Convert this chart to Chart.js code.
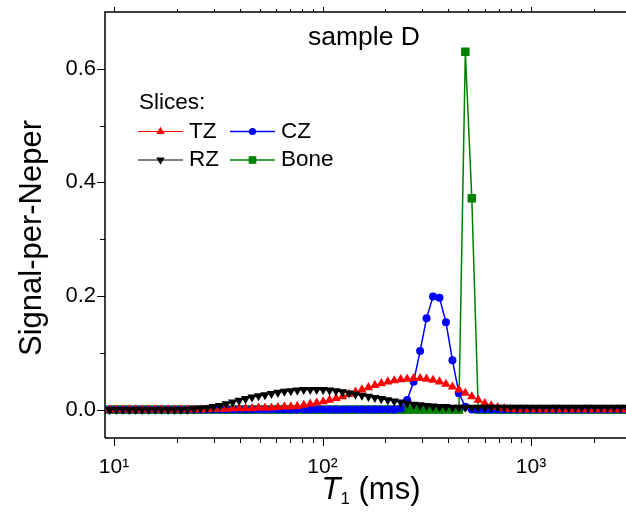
<!DOCTYPE html>
<html>
<head>
<meta charset="utf-8">
<script src="https://cdn.jsdelivr.net/npm/chart.js"></script>
<style>
html, body { margin: 0; padding: 0; background: #fff; }
#wrap { width: 626px; height: 523px; }
</style>
</head>
<body>
<div id="wrap"><canvas id="c" width="626" height="523"></canvas></div>
<script>
const FONT = "'Liberation Sans', Arial, Helvetica, sans-serif";

// T1 grid (ms)
const T1 = [
  9.55, 10.26, 11.02, 11.83, 12.71, 13.65, 14.66, 15.74, 16.90, 18.16,
  19.50, 20.94, 22.49, 24.15, 25.94, 27.86, 29.92, 32.14, 34.51, 37.07,
  39.81, 42.76, 45.92, 49.32, 52.97, 56.89, 61.09, 65.61, 70.47, 75.68,
  81.28, 87.30, 93.76, 100.7, 108.1, 116.1, 124.7, 134.0, 143.9, 154.5,
  166.0, 178.2, 191.4, 205.6, 220.8, 237.1, 254.7, 273.5, 293.8, 315.5,
  338.8, 363.9, 390.8, 419.8, 450.8, 484.2, 520.0, 558.5, 599.8, 644.2,
  691.8, 743.0, 798.0, 857.0, 920.4, 988.5, 1062, 1140, 1225, 1315,
  1413, 1517, 1629, 1750, 1879, 2018, 2168, 2328, 2500, 2685, 2884
];

const TZ = [
  0, 0, 0, 0, 0, 0, 0, 0, 0, 0,
  0, 0, 0, 0, 0, 0, 0.001, 0.001, 0.001, 0.002,
  0.002, 0.002, 0.002, 0.003, 0.003, 0.003, 0.004, 0.005, 0.005, 0.006,
  0.008, 0.010, 0.012, 0.014, 0.017, 0.020, 0.023, 0.027, 0.031, 0.035,
  0.039, 0.043, 0.046, 0.049, 0.051, 0.053, 0.054, 0.055, 0.055, 0.054,
  0.052, 0.049, 0.045, 0.040, 0.035, 0.029, 0.023, 0.017, 0.011, 0.007,
  0.004, 0.002, 0.001, 0, 0, 0, 0, 0, 0, 0,
  0, 0, 0, 0, 0, 0, 0, 0, 0, 0, 0
];

const CZ = [
  0, 0, 0, 0, 0, 0, 0, 0, 0, 0,
  0, 0, 0, 0, 0, 0, 0, 0, 0, 0,
  0, 0, 0, 0, 0, 0, 0, 0, 0, 0,
  0, 0, 0, 0, 0, 0, 0, 0, 0, 0,
  0, 0, 0, 0, 0, 0.002, 0.017, 0.049, 0.103, 0.161,
  0.199, 0.197, 0.154, 0.087, 0.029, 0.005, 0, 0, 0, 0,
  0, 0, 0, 0, 0, 0, 0, 0, 0, 0,
  0, 0, 0, 0, 0, 0, 0, 0, 0, 0, 0
];

const RZ = [
  0, 0, 0, 0, 0, 0, 0, 0, 0, 0,
  0, 0, 0, 0.001, 0.002, 0.003, 0.005, 0.007, 0.010, 0.013,
  0.016, 0.019, 0.022, 0.024, 0.026, 0.028, 0.030, 0.032, 0.033, 0.034,
  0.035, 0.035, 0.035, 0.035, 0.034, 0.033, 0.031, 0.029, 0.027, 0.025,
  0.023, 0.021, 0.019, 0.017, 0.015, 0.013, 0.011, 0.009, 0.008, 0.007,
  0.006, 0.005, 0.005, 0.004, 0.004, 0.004, 0.004, 0.004, 0.004, 0.004,
  0.004, 0.004, 0.004, 0.004, 0.004, 0.004, 0.004, 0.004, 0.004, 0.004,
  0.004, 0.004, 0.004, 0.004, 0.004, 0.004, 0.004, 0.004, 0.004, 0.004, 0.004
];

const Bone = [
  0, 0, 0, 0, 0, 0, 0, 0, 0, 0,
  0, 0, 0, 0, 0, 0, 0, 0, 0, 0,
  0, 0, 0, 0, 0, 0, 0, 0, 0, 0,
  0, 0, 0, 0, 0, 0, 0, 0, 0, 0,
  0, 0, 0, 0, 0, 0, 0, 0, 0, 0,
  0, 0, 0, 0, 0, 0.630, 0.372, 0, 0, 0,
  0, 0, 0, 0, 0, 0, 0, 0, 0, 0,
  0, 0, 0, 0, 0, 0, 0, 0, 0, 0, 0
];

const xMajor = [10, 100, 1000];
const xMajorLabels = ['10\u00b9', '10\u00b2', '10\u00b3'];
const xMinor = [20, 30, 40, 50, 60, 70, 80, 90, 200, 300, 400, 500, 600, 700, 800, 900, 2000];
const yMajor = [0, 0.2, 0.4, 0.6];
const yMajorLabels = ['0.0', '0.2', '0.4', '0.6'];
const yMinor = [0.1, 0.3, 0.5];

const series = [
  { label: 'TZ', values: TZ, color: '#ff0000', shape: 'triangle', rot: 0, r: 5.4, lw: 1, order: 2 },
  { label: 'CZ', values: CZ, color: '#0000ff', shape: 'circle', rot: 0, r: 4, lw: 1.5, order: 3 },
  { label: 'RZ', values: RZ, color: '#000000', shape: 'triangle', rot: 180, r: 5.4, lw: 1, order: 1 },
  { label: 'Bone', values: Bone, color: '#008000', shape: 'rect', rot: 0, r: 6, lw: 1.5, order: 4 }
];

function marker(ctx, shape, rot, r, x, y) {
  ctx.beginPath();
  if (shape === 'circle') {
    ctx.arc(x, y, r, 0, Math.PI * 2);
  } else if (shape === 'rect') {
    const h = r * Math.SQRT1_2;
    ctx.rect(x - h, y - h, 2 * h, 2 * h);
  } else {
    const s = rot ? -1 : 1;
    const w = r * Math.sqrt(3) / 2;
    ctx.moveTo(x, y - s * r);
    ctx.lineTo(x + w, y + s * r / 2);
    ctx.lineTo(x - w, y + s * r / 2);
    ctx.closePath();
  }
  ctx.fill();
}

const decorations = {
  id: 'decorations',
  afterDraw(chart) {
    const { ctx, chartArea: a, scales: { x, y } } = chart;
    ctx.save();
    ctx.strokeStyle = '#000';
    ctx.lineWidth = 1.5;
    ctx.beginPath();
    ctx.moveTo(a.left, a.bottom);
    ctx.lineTo(a.left, a.top);
    ctx.lineTo(a.right, a.top);
    ctx.moveTo(a.left, a.bottom);
    ctx.lineTo(a.right, a.bottom);
    ctx.stroke();

    ctx.lineWidth = 1;
    ctx.beginPath();
    xMajor.concat(xMinor).forEach(v => {
      const px = Math.round(x.getPixelForValue(v)) + 0.5;
      if (px < a.left || px > a.right) return;
      const major = xMajor.includes(v);
      ctx.moveTo(px, a.bottom);
      ctx.lineTo(px, a.bottom + (major ? 8 : 5));
      ctx.moveTo(px, a.top);
      ctx.lineTo(px, a.top - (major ? 5 : 3));
    });
    yMajor.concat(yMinor).forEach(v => {
      const py = Math.round(y.getPixelForValue(v)) + 0.5;
      const major = yMajor.includes(v);
      ctx.moveTo(a.left, py);
      ctx.lineTo(a.left - (major ? 8 : 5), py);
    });
    ctx.stroke();

    ctx.fillStyle = '#000';
    ctx.textBaseline = 'middle';
    ctx.textAlign = 'center';
    ctx.font = '26.5px ' + FONT;
    ctx.fillText('sample D', 364, 38);

    // x axis title: T1 (ms)
    ctx.textAlign = 'left';
    ctx.font = 'italic 31px ' + FONT;
    const tw = ctx.measureText('T').width;
    ctx.font = '17px ' + FONT;
    const sw = ctx.measureText('1').width;
    ctx.font = '31px ' + FONT;
    const rw = ctx.measureText(' (ms)').width;
    let xs = 371 - (tw + sw + rw) / 2;
    const ty = 490;
    ctx.font = 'italic 31px ' + FONT;
    ctx.fillText('T', xs, ty);
    xs += tw;
    ctx.font = '17px ' + FONT;
    ctx.fillText('1', xs, ty + 9);
    xs += sw;
    ctx.font = '31px ' + FONT;
    ctx.fillText(' (ms)', xs, ty);

    // y axis title
    ctx.save();
    ctx.translate(32, 238);
    ctx.rotate(-Math.PI / 2);
    ctx.textAlign = 'center';
    ctx.font = '31px ' + FONT;
    ctx.fillText('Signal-per-Neper', 0, 0);
    ctx.restore();

    // legend
    ctx.font = '22.5px ' + FONT;
    ctx.textAlign = 'left';
    ctx.fillText('Slices:', 139, 103);
    const slots = [[138, 131.5], [230, 131.5], [138, 160], [230, 160]];
    series.forEach((s, n) => {
      const [lx, ly] = slots[n];
      ctx.strokeStyle = s.color;
      ctx.fillStyle = s.color;
      ctx.lineWidth = s.lw;
      ctx.beginPath();
      ctx.moveTo(lx, ly);
      ctx.lineTo(lx + 45, ly);
      ctx.stroke();
      marker(ctx, s.shape, s.rot, s.r * 0.9, lx + 22.5, ly);
      ctx.fillStyle = '#000';
      ctx.fillText(s.label, lx + 51, ly);
    });
    ctx.restore();
  }
};

new Chart(document.getElementById('c'), {
  type: 'line',
  data: {
    datasets: series.map(s => ({
      label: s.label,
      data: T1.map((t, i) => ({ x: t, y: s.values[i] })),
      borderColor: s.color,
      backgroundColor: s.color,
      borderWidth: s.lw,
      pointStyle: s.shape,
      pointRotation: s.rot,
      pointRadius: s.r,
      pointBorderWidth: 0,
      pointBackgroundColor: s.color,
      tension: 0,
      order: s.order
    }))
  },
  options: {
    responsive: false,
    animation: false,
    devicePixelRatio: 1,
    layout: { autoPadding: false, padding: { top: 12, right: 0, left: 0, bottom: 0 } },
    plugins: { legend: { display: false }, tooltip: { enabled: false } },
    scales: {
      x: {
        type: 'logarithmic',
        min: 9.05,
        max: 2855,
        grid: { display: false, drawTicks: false },
        border: { display: false },
        afterBuildTicks: s => { s.ticks = xMajor.concat(xMinor).sort((p, q) => p - q).map(v => ({ value: v })); },
        afterFit: s => { s.height = 85; s.paddingLeft = 0; s.paddingRight = 0; },
        ticks: {
          autoSkip: false, maxRotation: 0, padding: 17, color: '#000',
          font: { family: FONT, size: 21 },
          callback: v => { const k = xMajor.indexOf(v); return k < 0 ? '' : xMajorLabels[k]; }
        }
      },
      y: {
        min: -0.05,
        max: 0.7,
        grid: { display: false, drawTicks: false },
        border: { display: false },
        afterBuildTicks: s => { s.ticks = yMajor.concat(yMinor).sort((p, q) => p - q).map(v => ({ value: v })); },
        afterFit: s => { s.width = 105; s.paddingTop = 0; s.paddingBottom = 0; },
        ticks: {
          autoSkip: false, padding: 9, color: '#000',
          font: { family: FONT, size: 22 },
          callback: v => { const k = yMajor.indexOf(v); return k < 0 ? '' : yMajorLabels[k]; }
        }
      }
    }
  },
  plugins: [decorations]
});
</script>
</body>
</html>
